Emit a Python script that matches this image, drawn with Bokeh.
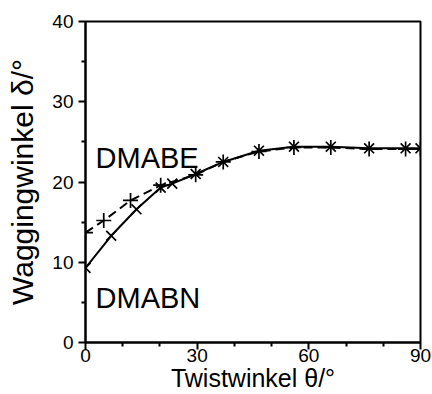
import math
from bokeh.plotting import figure
from bokeh.models import Range1d, FixedTicker, Label
from bokeh.embed import file_html
from bokeh.resources import INLINE

# Data
dmabn_theta = [0, 6.9, 13.7, 20.2, 23.3, 29.6, 37.0, 46.6, 56.0, 65.9, 76.2, 86.0, 90]
dmabn_delta = [9.3, 13.3, 16.6, 19.3, 19.8, 21.0, 22.5, 23.9, 24.4, 24.4, 24.2, 24.2, 24.2]
dmabe_theta = [0, 4.9, 12.1, 20.2, 29.6, 37.0, 46.6, 56.0, 65.9, 76.2, 86.0, 90]
dmabe_delta = [13.7, 15.2, 17.7, 19.6, 20.9, 22.5, 23.8, 24.3, 24.3, 24.1, 24.1, 24.1]

x_major = [0, 30, 60, 90]
x_minor = [10, 20, 40, 50, 70, 80]
y_major = [0, 10, 20, 30, 40]
y_minor = [5, 15, 25, 35]

x_title = "Twistwinkel θ/°"
y_title = "Waggingwinkel δ/°"
FONT = "Liberation Sans"

p = figure(width=432, height=394, output_backend="svg", toolbar_location=None,
           x_range=Range1d(0, 90), y_range=Range1d(0, 40),
           min_border_left=85, min_border_right=12, min_border_top=21,
           min_border_bottom=10)
p.background_fill_color = "white"
p.border_fill_color = "white"
p.outline_line_color = "black"
p.outline_line_width = 2
p.outline_line_alpha = 1
p.xgrid.visible = False
p.ygrid.visible = False

for ax in (p.xaxis[0], p.yaxis[0]):
    ax.axis_line_color = "black"
    ax.axis_line_width = 2
    ax.major_tick_line_color = "black"
    ax.major_tick_line_width = 2
    ax.minor_tick_line_color = "black"
    ax.minor_tick_line_width = 2
    ax.major_tick_in = 0
    ax.minor_tick_in = 0
    ax.major_tick_out = 7
    ax.minor_tick_out = 4
    ax.major_label_text_font = FONT
    ax.major_label_text_font_size = "19px"
    ax.major_label_text_color = "black"
    ax.axis_label_text_font = FONT
    ax.axis_label_text_font_style = "normal"
    ax.axis_label_text_color = "black"

p.xaxis[0].ticker = FixedTicker(ticks=x_major, minor_ticks=x_minor)
p.yaxis[0].ticker = FixedTicker(ticks=y_major, minor_ticks=y_minor)
p.xaxis[0].major_label_standoff = -1
p.yaxis[0].major_label_standoff = 5

p.xaxis[0].axis_label = x_title
p.xaxis[0].axis_label_text_font_size = "25px"
p.xaxis[0].axis_label_standoff = -1
p.yaxis[0].axis_label = y_title
p.yaxis[0].axis_label_text_font_size = "30px"
p.yaxis[0].axis_label_standoff = 10

# Lines
p.line(dmabn_theta, dmabn_delta, line_color="black", line_width=2)
p.line(dmabe_theta, dmabe_delta, line_color="black", line_width=2, line_dash="9 5")
p.scatter(dmabn_theta, dmabn_delta, marker="x", size=14, line_color="black", line_width=1.7)
p.scatter(dmabe_theta, dmabe_delta, marker="cross", size=15, line_color="black", line_width=1.7)

# In-plot labels
p.add_layout(Label(x=2.7, y=23.0, text="DMABE", text_font=FONT, text_font_size="29px",
                   text_color="black", text_baseline="alphabetic", text_align="left"))
p.add_layout(Label(x=2.7, y=5.6, text="DMABN", text_font=FONT, text_font_size="29px",
                   text_color="black", text_baseline="alphabetic", text_align="left"))

open("out.html", "w").write(file_html(p, INLINE))
